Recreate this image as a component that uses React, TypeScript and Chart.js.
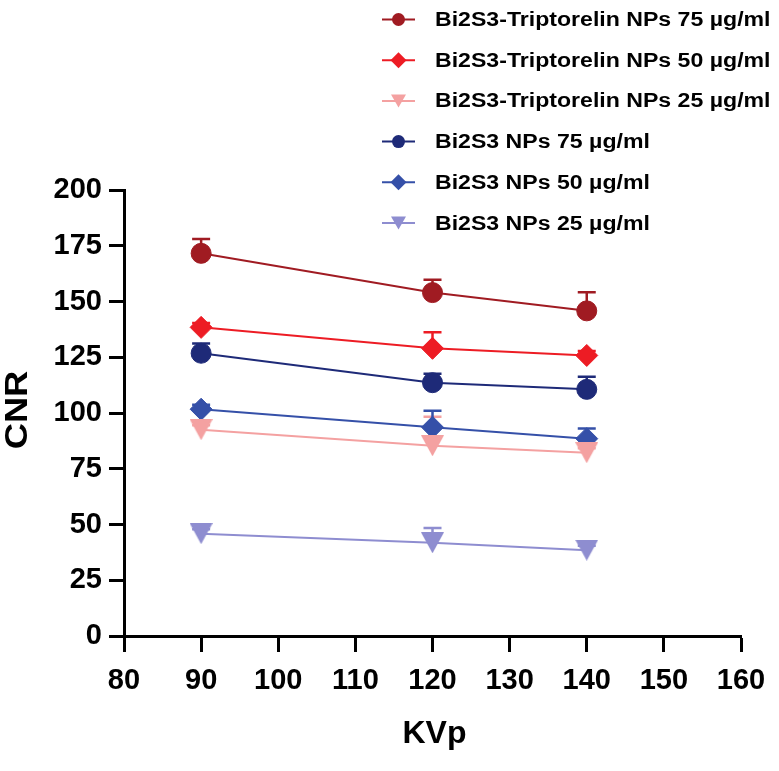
import React, { useEffect, useRef } from "react";
import { Chart, registerables } from "chart.js";

Chart.register(...registerables);

// ---- data ----
const kvp = [90, 120, 140];

const seriesLabels = [
  "Bi2S3-Triptorelin NPs 75 µg/ml",
  "Bi2S3-Triptorelin NPs 50 µg/ml",
  "Bi2S3-Triptorelin NPs 25 µg/ml",
  "Bi2S3 NPs 75 µg/ml",
  "Bi2S3 NPs 50 µg/ml",
  "Bi2S3 NPs 25 µg/ml",
];

const triptorelin75 = [171.6, 154.0, 145.8];
const triptorelin75Err = [6.4, 5.8, 8.4];
const triptorelin50 = [138.4, 129.0, 125.8];
const triptorelin50Err = [2, 7.2, 2];
const triptorelin25 = [92.5, 85.3, 82.2];
const triptorelin25Err = [2, 13.0, 2];
const bi2s3NP75 = [126.8, 113.6, 110.6];
const bi2s3NP75Err = [4.4, 4.0, 5.6];
const bi2s3NP50 = [101.7, 93.6, 88.5];
const bi2s3NP50Err = [2, 7.4, 4.6];
const bi2s3NP25 = [45.9, 41.8, 38.5];
const bi2s3NP25Err = [2, 6.6, 2];

const seriesValues = [triptorelin75, triptorelin50, triptorelin25, bi2s3NP75, bi2s3NP50, bi2s3NP25];
const seriesErrors = [triptorelin75Err, triptorelin50Err, triptorelin25Err, bi2s3NP75Err, bi2s3NP50Err, bi2s3NP25Err];
const seriesColors = ["#A01B22", "#ED1C24", "#F4A1A1", "#1E2A78", "#3550A8", "#8E8DD0"];
const seriesShapes = ["circle", "diamond", "triangle", "circle", "diamond", "triangle"];

const xMin = 80;
const xMax = 160;
const xStep = 10;
const yMin = 0;
const yMax = 200;
const yStep = 25;
const xTitle = "KVp";
const yTitle = "CNR";

const FONT = "'Liberation Sans', Arial, sans-serif";

function makeTriangle(color: string, w: number, h: number): HTMLCanvasElement {
  const c = document.createElement("canvas");
  c.width = w;
  c.height = h;
  const ctx = c.getContext("2d")!;
  ctx.fillStyle = color;
  ctx.beginPath();
  ctx.moveTo(0, 0);
  ctx.lineTo(w, 0);
  ctx.lineTo(w / 2, h);
  ctx.closePath();
  ctx.fill();
  return c;
}

function drawLegendMarker(ctx: CanvasRenderingContext2D, shape: string, color: string, x: number, y: number) {
  ctx.save();
  ctx.fillStyle = color;
  ctx.beginPath();
  if (shape === "circle") {
    ctx.arc(x, y, 6.5, 0, Math.PI * 2);
  } else if (shape === "diamond") {
    const r = 8;
    ctx.moveTo(x, y - r);
    ctx.lineTo(x + r, y);
    ctx.lineTo(x, y + r);
    ctx.lineTo(x - r, y);
    ctx.closePath();
  } else {
    const w = 15;
    const h = 13;
    ctx.moveTo(x - w / 2, y - h / 2);
    ctx.lineTo(x + w / 2, y - h / 2);
    ctx.lineTo(x, y + h / 2);
    ctx.closePath();
  }
  ctx.fill();
  ctx.restore();
}

const errorBarPlugin = {
  id: "errorBars",
  beforeDatasetsDraw(chart: any) {
    const ctx = chart.ctx as CanvasRenderingContext2D;
    const xs = chart.scales.x;
    const ys = chart.scales.y;
    ctx.save();
    seriesValues.forEach((vals, i) => {
      ctx.strokeStyle = seriesColors[i];
      ctx.lineWidth = 2.5;
      vals.forEach((v, j) => {
        const x = xs.getPixelForValue(kvp[j]);
        const y0 = ys.getPixelForValue(v);
        const y1 = ys.getPixelForValue(v + seriesErrors[i][j]);
        ctx.beginPath();
        ctx.moveTo(x, y0);
        ctx.lineTo(x, y1);
        ctx.moveTo(x - 9, y1);
        ctx.lineTo(x + 9, y1);
        ctx.stroke();
      });
    });
    ctx.restore();
  },
};

const annotationPlugin = {
  id: "legendAndTitles",
  afterDraw(chart: any) {
    const ctx = chart.ctx as CanvasRenderingContext2D;
    const area = chart.chartArea;
    ctx.save();
    // legend
    const rowTop = 19.5;
    const rowGap = 40.7;
    seriesLabels.forEach((label, i) => {
      const y = rowTop + i * rowGap;
      ctx.strokeStyle = seriesColors[i];
      ctx.lineWidth = 2;
      ctx.beginPath();
      ctx.moveTo(382, y);
      ctx.lineTo(415, y);
      ctx.stroke();
      drawLegendMarker(ctx, seriesShapes[i], seriesColors[i], 398.5, y);
      ctx.save();
      ctx.translate(435, y);
      ctx.scale(1.155, 1);
      ctx.fillStyle = "#000";
      ctx.font = `bold 20px ${FONT}`;
      ctx.textAlign = "left";
      ctx.textBaseline = "middle";
      ctx.fillText(label, 0, 1);
      ctx.restore();
    });
    // y title
    ctx.save();
    ctx.translate(17.5, (area.top + area.bottom) / 2 - 3);
    ctx.rotate(-Math.PI / 2);
    ctx.scale(1.17, 1);
    ctx.fillStyle = "#000";
    ctx.font = `bold 31px ${FONT}`;
    ctx.textAlign = "center";
    ctx.textBaseline = "middle";
    ctx.fillText(yTitle, 0, 1);
    ctx.restore();
    // x title
    ctx.fillStyle = "#000";
    ctx.font = `bold 32px ${FONT}`;
    ctx.textAlign = "center";
    ctx.textBaseline = "alphabetic";
    ctx.fillText(xTitle, (area.left + area.right) / 2 + 2, 743);
    ctx.restore();
  },
};

export default function App() {
  const ref = useRef<HTMLCanvasElement | null>(null);
  useEffect(() => {
    if (!ref.current) return;
    const pointStyles = seriesShapes.map((s, i) => {
      if (s === "circle") return "circle";
      if (s === "diamond") return "rectRot";
      return makeTriangle(seriesColors[i], 23, 21);
    });
    const radii = seriesShapes.map((s) => (s === "circle" ? 10 : 11));
    const datasets = seriesValues.map((vals, i) => ({
      label: seriesLabels[i],
      data: vals.map((v, j) => ({ x: kvp[j], y: v })),
      borderColor: seriesColors[i],
      backgroundColor: seriesColors[i],
      borderWidth: 2,
      pointStyle: pointStyles[i] as any,
      pointRadius: radii[i],
      pointHoverRadius: radii[i],
      pointBorderWidth: 1,
      pointBorderColor: seriesColors[i],
      pointBackgroundColor: seriesColors[i],
      tension: 0,
      fill: false,
    }));
    const chart = new Chart(ref.current, {
      type: "line",
      data: { datasets },
      options: {
        animation: false,
        responsive: false,
        devicePixelRatio: 1,
        layout: { padding: { top: 190, right: 38, left: 0, bottom: 0 } },
        plugins: { legend: { display: false }, tooltip: { enabled: false } },
        scales: {
          x: {
            type: "linear",
            min: xMin,
            max: xMax,
            afterFit: (scale: any) => {
              scale.height = 135;
            },
            ticks: {
              stepSize: xStep,
              color: "#000",
              padding: 12,
              maxRotation: 0,
              font: { family: FONT, size: 29, weight: "bold" },
            },
            border: { display: true, color: "#000", width: 3 },
            grid: {
              drawOnChartArea: false,
              drawTicks: true,
              tickLength: 16,
              tickWidth: 3,
              tickColor: "#000",
              color: "#000",
            },
            title: { display: false },
          },
          y: {
            type: "linear",
            min: yMin,
            max: yMax,
            afterFit: (scale: any) => {
              scale.width = 124;
            },
            ticks: {
              stepSize: yStep,
              color: "#000",
              padding: 7,
              font: { family: FONT, size: 29, weight: "bold" },
            },
            border: { display: true, color: "#000", width: 3 },
            grid: {
              drawOnChartArea: false,
              drawTicks: true,
              tickLength: 15,
              tickWidth: 3,
              tickColor: "#000",
              color: "#000",
            },
            title: { display: false },
          },
        },
      },
      plugins: [errorBarPlugin, annotationPlugin],
    });
    return () => chart.destroy();
  }, []);
  return (
    <div style={{ position: "fixed", left: 0, top: 0, width: 779, height: 771, background: "#fff" }}>
      <canvas ref={ref} width={779} height={771} style={{ display: "block" }} />
    </div>
  );
}
